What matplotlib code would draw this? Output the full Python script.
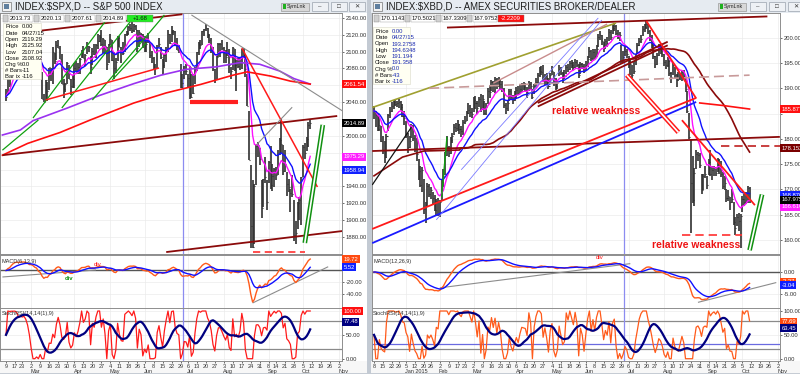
import numpy as np
import pandas as pd
import matplotlib
matplotlib.use("Agg")
import matplotlib.pyplot as plt
import matplotlib.transforms as mtrans
from matplotlib.patches import Rectangle

plt.rcParams["font.family"] = ["Liberation Sans", "DejaVu Sans"]

HOLIDAYS = ["2014-12-25", "2015-01-01", "2015-01-19", "2015-02-16", "2015-04-03",
            "2015-05-25", "2015-07-03", "2015-09-07", "2015-11-26"]

# ----------------------------------------------------------------------
# S&P 500 daily bars, 2015-02-09 .. 2015-10-09
# ----------------------------------------------------------------------
spx_first = "2015-02-09"
spx_close = [
    2046.7, 2068.6, 2068.5, 2088.5, 2097.0, 2100.3, 2099.7, 2097.5, 2110.3, 2109.7, 2115.5, 2113.9, 2110.7, 2104.5,
    2117.4, 2107.8, 2098.5, 2101.0, 2071.3, 2079.4, 2044.2, 2040.2, 2066.0, 2053.4, 2081.2, 2074.3, 2099.5, 2089.3,
    2108.1, 2104.4, 2091.5, 2061.1, 2056.2, 2061.0, 2086.2, 2067.9,
    2059.7, 2067.0, 2080.6, 2076.3, 2081.9, 2091.2, 2102.1, 2092.4, 2095.8, 2106.6, 2105.0, 2081.2, 2100.4, 2097.3,
    2108.0, 2112.9, 2117.7, 2108.9, 2114.8, 2106.9, 2085.5,
    2108.3, 2114.5, 2089.5, 2080.2, 2088.0, 2116.1, 2105.3, 2099.1, 2098.5, 2121.1, 2122.7, 2129.2, 2127.8, 2125.9,
    2130.8, 2126.1, 2104.2, 2123.5, 2120.8, 2107.4,
    2111.7, 2109.6, 2114.1, 2095.8, 2092.8, 2079.3, 2080.2, 2105.2, 2108.9, 2094.1, 2084.4, 2096.3, 2100.4, 2121.2,
    2110.0, 2122.9, 2124.2, 2108.6, 2102.3, 2101.5, 2057.6, 2063.1,
    2077.4, 2076.8, 2068.8, 2081.3, 2046.7, 2051.3, 2076.6, 2099.6, 2109.0, 2107.4, 2124.3, 2126.6, 2128.3, 2119.2,
    2114.2, 2102.2, 2079.7, 2067.6, 2093.3, 2108.6, 2108.6, 2103.8,
    2098.0, 2093.3, 2099.8, 2083.6, 2077.6, 2104.2, 2084.1, 2086.1, 2083.4, 2091.5, 2102.4, 2096.9, 2079.6, 2035.7,
    1970.9, 1893.2, 1867.6, 1940.5, 1987.7, 1988.9, 1972.2,
    1913.9, 1948.9, 1951.1, 1921.2, 1969.4, 1942.0, 1952.3, 1961.1, 1953.0, 1978.1, 1995.3, 1990.2, 1958.0, 1967.0,
    1942.7, 1938.8, 1932.2, 1931.3, 1881.8, 1884.1, 1920.0,
    1923.8, 1951.4, 1987.1, 1979.9, 1995.8, 2013.4, 2014.9]
spx_high = [
    2056, 2071, 2073, 2089, 2097, 2101, 2100, 2102, 2111, 2111, 2117, 2119, 2115, 2113,
    2118, 2115, 2107, 2104, 2100, 2082, 2076, 2050, 2066, 2064, 2081, 2080, 2106, 2098, 2113, 2114, 2107, 2097,
    2067, 2063, 2088, 2084,
    2068, 2072, 2086, 2089, 2086, 2092, 2102, 2107, 2097, 2111, 2107, 2095, 2104, 2109, 2109, 2121, 2120, 2126,
    2116, 2114, 2105,
    2109, 2121, 2114, 2099, 2092, 2118, 2118, 2105, 2111, 2121, 2125, 2131, 2133, 2135, 2133, 2132, 2126, 2126,
    2122, 2121,
    2119, 2117, 2122, 2112, 2101, 2094, 2085, 2108, 2116, 2105, 2091, 2097, 2106, 2126, 2121, 2130, 2126, 2125,
    2116, 2108, 2085, 2074,
    2083, 2085, 2074, 2083, 2074, 2074, 2082, 2100, 2111, 2114, 2124, 2127, 2133, 2128, 2121, 2116, 2106, 2079,
    2095, 2110, 2110, 2114,
    2105, 2102, 2112, 2103, 2082, 2105, 2103, 2090, 2093, 2092, 2103, 2104, 2096, 2073, 2029, 1965, 1948, 1943,
    1989, 1993, 1986,
    1948, 1949, 1975, 1947, 1970, 1988, 1966, 1962, 1963, 1983, 1997, 2021, 1989, 1983, 1957, 1949, 1937, 1953,
    1924, 1899, 1921,
    1927, 1951, 1989, 1991, 1999, 2016, 2020]
spx_low = [
    2041, 2049, 2058, 2069, 2086, 2089, 2093, 2090, 2085, 2104, 2103, 2111, 2104, 2103,
    2104, 2098, 2090, 2095, 2067, 2072, 2044, 2040, 2041, 2041, 2055, 2065, 2061, 2085, 2090, 2104, 2091, 2061,
    2045, 2052, 2062, 2067,
    2049, 2057, 2057, 2076, 2074, 2074, 2092, 2092, 2083, 2097, 2100, 2073, 2084, 2096, 2093, 2103, 2112, 2107,
    2098, 2097, 2078,
    2087, 2108, 2089, 2068, 2075, 2089, 2105, 2086, 2096, 2099, 2118, 2120, 2124, 2122, 2123, 2126, 2099, 2105,
    2112, 2104,
    2100, 2099, 2110, 2093, 2086, 2079, 2072, 2081, 2106, 2091, 2072, 2080, 2088, 2099, 2109, 2111, 2120, 2108,
    2102, 2098, 2057, 2057,
    2067, 2072, 2058, 2044, 2045, 2050, 2061, 2077, 2096, 2103, 2108, 2119, 2124, 2116, 2110, 2098, 2077, 2063,
    2068, 2094, 2094, 2102,
    2087, 2087, 2095, 2075, 2067, 2078, 2077, 2053, 2080, 2078, 2079, 2094, 2070, 2036, 1971, 1867, 1867, 1872,
    1942, 1975, 1965,
    1903, 1916, 1944, 1912, 1944, 1937, 1934, 1939, 1948, 1954, 1977, 1980, 1953, 1957, 1929, 1933, 1909, 1927,
    1875, 1872, 1889,
    1900, 1894, 1951, 1972, 1982, 1987, 2008]

# slow averages (date, value)
spx_purple_dates = ["2015-02-05", "2015-02-20", "2015-03-03", "2015-03-30", "2015-04-24", "2015-05-21",
                    "2015-06-12", "2015-07-02", "2015-07-28", "2015-08-14", "2015-08-31", "2015-09-16",
                    "2015-09-28", "2015-10-09"]
spx_purple_vals = [2001, 2007, 2018, 2033, 2048, 2062, 2072, 2079, 2082, 2087, 2085, 2077, 2068, 2061.5]
spx_red_ma_dates = ["2015-02-05", "2015-02-26", "2015-03-24", "2015-04-17", "2015-05-21", "2015-06-17",
                    "2015-07-15", "2015-08-10", "2015-08-20", "2015-09-09", "2015-09-24", "2015-10-09"]
spx_red_ma_vals = [1977, 1991, 2004, 2019, 2039, 2051, 2061, 2072, 2076, 2071, 2065, 2061.5]

# hand drawn trend lines (start date, start value, end date, end value)
spx_maroon_lines = [("2015-03-06", 2124.6, "2015-06-30", 2144.4),
                    ("2015-02-05", 1977.0, "2015-10-30", 2023.6),
                    ("2015-06-17", 1862.0, "2015-11-04", 1887.0)]
spx_green_lines = [("2015-03-03", 2021.2, "2015-05-01", 2141.2),
                   ("2015-03-25", 2033.1, "2015-05-22", 2143.6),
                   ("2015-04-20", 2042.6, "2015-06-16", 2143.6),
                   ("2015-05-05", 2066.4, "2015-06-02", 2110.3),
                   ("2015-02-05", 1983.0, "2015-03-06", 2018.9)]
spx_red_lines = [("2015-03-12", 2042.6, "2015-06-11", 2080.6),
                 ("2015-08-17", 2104.4, "2015-10-15", 1939.3)]
spx_gray_lines = [("2015-07-08", 2143.6, "2015-11-04", 2029.5),
                  ("2015-08-27", 1989.0, "2015-09-25", 2034.0)]
spx_green_double = [("2015-10-06", 1872.8, "2015-10-20", 2013.0)]
spx_red_flat = [("2015-07-07", "2015-08-13", 2040.6)]
spx_red_dashed = [("2015-08-25", "2015-10-06", 1862.5)]
spx_macd_gray = [("2015-02-05", -11.2, "2015-04-22", 0.9),
                 ("2015-08-25", -56.0, "2015-10-23", 6.5)]
spx_div_red = [("2015-04-23", 11.0)]
spx_div_green = [("2015-03-31", -14.6)]

spx_price_boxes = [("2061.54", 2061.54, "#ff1010"), ("2014.89", 2014.89, "#000000"),
                   ("1975.29", 1975.29, "#ff20ff"), ("1958.94", 1958.94, "#1020ff")]
spx_macd_boxes = [("19.72", 19.72, "#ff4a10"), ("5.52", 5.52, "#1020ff")]
spx_stoch_boxes = [("100.00", 100.0, "#ff1010"), ("77.48", 77.48, "#000080")]
spx_toolbar = ["2013.73", "2020.13", "2007.61", "2014.89"]
spx_change = "+1.68"
spx_info = [("Price", "0.00"), ("Date", "04/27/15"), ("Open", "2119.29"), ("High", "2125.92"),
            ("Low", "2107.04"), ("Close", "2108.92"), ("Chg %", "0.0"), ("# Bars", "-11"), ("Bar ix", "-116")]

# ----------------------------------------------------------------------
# XBD daily bars, 2014-12-08 .. 2015-10-09
# ----------------------------------------------------------------------
xbd_first = "2014-12-08"
xbd_close = [
    185.5, 184.8, 182.0, 182.8, 179.6, 177.8, 176.4, 180.6, 184.8, 185.6, 186.5, 187.2, 186.9, 187.0, 187.3, 186.3, 184.5,
    184.2, 180.6, 178.4, 179.5, 182.6, 180.2, 178.0, 177.0, 173.6, 170.8, 173.8, 166.2, 166.8, 170.6, 169.2, 169.8,
    168.3, 166.0, 167.8, 165.2,
    167.6, 171.5, 172.6, 176.8, 178.4, 177.2, 179.8, 180.6, 182.4, 182.2, 182.9, 182.0, 181.5, 183.4, 183.6, 185.2,
    185.8, 185.4, 185.0,
    187.6, 187.0, 186.2, 187.8, 186.0, 187.8, 185.2, 186.3, 189.5, 189.2, 191.2, 190.4, 191.8, 190.6, 191.4, 190.8,
    189.6, 186.6, 186.2, 187.0, 189.4, 188.2,
    187.6, 188.8, 189.6, 189.0, 189.8, 190.6, 190.2, 189.6, 189.2, 190.8, 190.4, 188.2, 190.4, 191.2, 192.6, 193.4,
    193.2, 191.4, 192.4, 191.6, 190.4,
    192.6, 193.4, 191.0, 190.4, 191.2, 193.8, 193.0, 192.2, 192.4, 194.2, 193.8, 195.0, 194.6, 194.2, 195.2, 194.6,
    192.6, 194.8, 194.4, 193.4,
    194.6, 195.8, 197.4, 196.0, 197.2, 196.4, 197.8, 200.2, 200.6, 199.4, 198.2, 199.4, 199.0, 201.2, 200.2, 202.0,
    202.4, 201.0, 200.2, 200.6, 195.4, 196.2,
    197.4, 196.8, 195.4, 194.8, 192.6, 193.4, 196.2, 198.6, 199.4, 199.8, 201.8, 202.2, 202.8, 201.4, 200.2, 198.6,
    196.4, 194.8, 196.6, 198.2, 197.8, 196.8,
    195.2, 194.6, 195.4, 193.0, 192.2, 194.6, 192.6, 192.2, 192.0, 192.6, 193.2, 192.4, 189.8, 185.6, 180.4, 171.2,
    168.0, 173.2, 177.0, 176.8, 174.8,
    169.8, 172.6, 173.0, 170.8, 175.4, 173.0, 173.8, 174.2, 173.2, 175.8, 175.0, 173.0, 170.6, 171.2, 168.4, 168.8,
    167.6, 168.2, 163.6, 162.4, 164.6,
    163.8, 164.8, 168.2, 167.6, 168.8, 170.2, 168.0]
xbd_high = [
    186.5, 185.6, 185.0, 184.5, 182.6, 180.5, 179.5, 181.0, 185.0, 186.3, 187.2, 187.7, 187.6, 187.5, 187.8, 187.4, 186.8,
    185.6, 183.6, 181.2, 180.5, 183.0, 182.8, 180.8, 180.2, 176.0, 174.6, 174.5, 172.0, 167.6, 171.2, 171.0, 170.4,
    169.5, 169.0, 168.2, 168.3,
    168.0, 171.8, 174.0, 177.5, 180.5, 178.6, 180.4, 181.2, 183.0, 183.2, 183.7, 183.0, 182.6, 183.7, 184.6, 185.6,
    187.0, 186.6, 186.2,
    188.2, 188.4, 187.4, 188.3, 188.8, 188.6, 187.4, 187.0, 190.0, 190.6, 191.6, 191.4, 192.3, 192.0, 192.2, 191.8,
    191.4, 190.0, 187.0, 187.6, 189.8, 189.8,
    188.6, 189.4, 190.2, 190.4, 190.6, 191.0, 191.2, 191.0, 190.2, 191.4, 191.2, 189.8, 190.8, 192.0, 193.0, 194.2,
    194.4, 194.6, 192.8, 193.0, 192.0,
    193.0, 194.4, 193.2, 192.0, 191.6, 194.6, 194.2, 193.2, 193.6, 194.6, 194.8, 195.4, 195.6, 195.2, 195.8, 195.6,
    194.8, 195.2, 195.0, 194.8,
    195.4, 196.4, 198.2, 197.6, 197.8, 197.8, 198.6, 200.8, 201.4, 200.6, 199.2, 199.8, 200.2, 201.8, 201.6, 202.6,
    202.9, 202.6, 201.6, 201.2, 198.6, 197.4,
    198.4, 197.8, 196.4, 195.8, 194.6, 195.4, 196.8, 199.0, 200.0, 200.6, 202.4, 202.8, 203.3, 202.8, 201.6, 200.6,
    198.8, 196.4, 197.0, 198.8, 199.0, 198.2,
    196.8, 195.6, 196.2, 195.6, 193.2, 195.0, 194.2, 192.8, 193.2, 193.0, 193.6, 193.6, 192.2, 189.4, 185.2, 180.0,
    176.6, 174.2, 177.8, 177.4, 177.2,
    173.0, 173.0, 174.6, 172.6, 176.0, 177.8, 174.6, 174.6, 174.4, 176.2, 176.0, 175.6, 173.4, 172.6, 170.0, 169.8,
    168.6, 170.0, 167.6, 164.6, 165.2,
    165.4, 165.2, 168.8, 169.2, 169.6, 170.6, 170.5]
xbd_low = [
    184.0, 182.3, 181.6, 181.5, 179.3, 177.0, 175.2, 176.2, 181.5, 184.2, 185.3, 186.0, 186.5, 186.4, 186.2, 185.8, 184.3,
    182.8, 180.2, 177.3, 178.2, 180.2, 179.6, 177.4, 175.6, 171.8, 170.4, 169.6, 165.2, 163.4, 166.5, 168.5, 168.2,
    166.9, 165.7, 165.0, 164.8,
    164.5, 167.8, 170.5, 172.8, 176.6, 176.4, 177.0, 179.2, 180.8, 181.4, 181.6, 181.0, 180.4, 180.8, 183.0, 183.5,
    185.0, 184.4, 184.2,
    185.4, 186.0, 185.0, 186.4, 185.4, 185.8, 184.8, 184.8, 186.8, 188.0, 189.4, 189.2, 189.0, 189.8, 190.2, 189.8,
    189.2, 186.2, 185.0, 185.6, 187.4, 187.8,
    186.8, 187.4, 187.8, 188.6, 188.8, 189.2, 189.6, 189.2, 188.0, 189.4, 189.8, 187.8, 188.8, 190.0, 190.8, 192.2,
    192.6, 191.2, 190.6, 190.6, 189.8,
    190.8, 192.6, 190.4, 189.6, 189.8, 192.4, 192.6, 191.0, 191.8, 192.8, 193.2, 193.6, 194.0, 193.6, 194.0, 194.2,
    192.0, 192.8, 193.8, 193.0,
    193.4, 194.2, 196.0, 195.4, 195.6, 195.8, 196.2, 198.2, 199.6, 198.6, 197.2, 197.8, 198.2, 199.4, 199.6, 200.8,
    201.4, 200.6, 199.8, 199.4, 195.0, 195.0,
    196.4, 196.0, 194.0, 192.6, 192.0, 192.8, 194.6, 196.8, 198.4, 199.0, 200.4, 201.2, 201.8, 200.8, 199.4, 198.0,
    195.8, 194.0, 194.6, 196.4, 196.8, 196.2,
    194.4, 193.8, 194.2, 192.4, 191.0, 192.6, 191.8, 190.2, 191.4, 191.6, 191.4, 191.8, 189.2, 185.2, 180.0, 161.4,
    167.4, 166.8, 174.0, 175.6, 174.2,
    169.2, 169.8, 172.2, 170.0, 172.8, 172.6, 171.8, 172.6, 172.6, 173.4, 173.0, 172.4, 170.0, 169.8, 167.6, 167.8,
    166.0, 167.4, 163.0, 161.0, 162.8,
    161.8, 158.4, 165.6, 166.8, 167.2, 167.4, 167.3]

# 50-day average before enough bars exist, then computed
xbd_sma50_early_dates = ["2014-12-08", "2014-12-31", "2015-01-20", "2015-02-18"]
xbd_sma50_early_vals = [172.7, 176.4, 177.6, 177.8]
xbd_red_ma_dates = ["2015-08-31", "2015-09-18", "2015-10-09"]
xbd_red_ma_vals = [187.1, 186.6, 185.9]

xbd_maroon_lines = [("2015-02-06", 202.0, "2015-10-23", 204.2),
                    ("2014-12-05", 177.6, "2015-11-03", 180.4),
                    ("2015-04-22", 187.1, "2015-08-05", 199.2),
                    ("2015-04-22", 186.4, "2015-08-05", 198.5)]
xbd_olive_lines = [("2014-12-05", 186.2, "2015-06-24", 202.9)]
xbd_tan_lines = [("2015-03-17", 191.0, "2015-06-17", 202.7)]
xbd_tan_dashed = [("2015-01-23", 190.0, "2015-10-09", 192.6)]
xbd_red_lines = [("2014-12-05", 162.2, "2015-08-27", 188.1),
                 ("2015-07-20", 203.3, "2015-08-27", 188.0),
                 ("2015-08-17", 183.7, "2015-10-14", 166.9)]
xbd_blue_lines = [("2014-12-05", 159.4, "2015-08-27", 187.3)]
xbd_thin_blue = [("2015-01-29", 164.0, "2015-06-12", 203.5),
                 ("2015-02-19", 173.9, "2015-06-10", 203.9)]
xbd_black_lines = [("2014-12-05", 170.9, "2015-01-08", 182.3)]
xbd_green_lines = [("2015-02-03", 168.5, "2015-02-06", 180.4)]
xbd_red_double = [("2015-07-02", 192.6, "2015-08-13", 181.3)]
xbd_green_double = [("2015-10-09", 158.0, "2015-10-20", 169.0)]
xbd_red_dashed = [("2015-08-17", "2015-10-05", 161.0)]
xbd_maroon_dashed = [("2015-09-17", "2015-11-03", 178.5)]
xbd_macd_gray = [("2015-02-02", -3.6, "2015-07-07", 1.9),
                 ("2015-08-28", -6.9, "2015-10-30", -2.4)]
xbd_div_red = [("2015-06-11", 3.2)]
xbd_notes = [("2015-06-09", 185.5), ("2015-08-27", 159.0)]

xbd_price_boxes = [("185.8772", 185.8772, "#ff1010"), ("178.1520", 178.152, "#7a0000"),
                   ("166.6104", 166.61, "#ff20ff"), ("168.8702", 168.8702, "#1020ff"),
                   ("167.9752", 167.9752, "#000000")]
xbd_macd_boxes = [("-2.27", -2.27, "#ff4a10"), ("-3.04", -3.04, "#1020ff")]
xbd_stoch_boxes = [("77.69", 77.69, "#ff4a10"), ("63.45", 63.45, "#000080")]
xbd_toolbar = ["170.1143", "170.5021", "167.3309", "167.9752"]
xbd_change = "-2.2209"
xbd_info = [("Price", "0.00"), ("Date", "04/27/15"), ("Open", "193.2758"), ("High", "194.6348"),
            ("Low", "191.194"), ("Close", "191.358"), ("Chg %", "0.0"), ("# Bars", "-43"), ("Bar ix", "-116")]


# ----------------------------------------------------------------------
# helpers
# ----------------------------------------------------------------------
def trading_days(start, end):
    d = pd.bdate_range(start, end)
    return d[~d.isin(pd.to_datetime(HOLIDAYS))]


def pos(cal, d):
    return cal.get_loc(pd.Timestamp(d))


def ema(s, n):
    return s.ewm(span=n, adjust=False).mean()


def stoch_rsi(close, n=14, k=14, sig=9):
    d = close.diff().fillna(0)
    up = d.clip(lower=0).ewm(alpha=1 / n, adjust=False).mean()
    dn = (-d.clip(upper=0)).ewm(alpha=1 / n, adjust=False).mean()
    rsi = (100 * up / (up + dn).replace(0, np.nan)).fillna(50)
    lo = rsi.rolling(k, min_periods=1).min()
    hi = rsi.rolling(k, min_periods=1).max()
    st = (100 * (rsi - lo) / (hi - lo).replace(0, np.nan)).fillna(50)
    smooth = st.rolling(sig, min_periods=1).mean().ewm(span=5, adjust=False).mean()
    return st, smooth


W, H = 800, 374
fig = plt.figure(figsize=(W / 100, H / 100), dpi=100)
fig.patch.set_facecolor("#c3cad3")


def px_axes(x0, y0, x1, y1):
    ax = fig.add_axes([x0 / W, 1 - y1 / H, (x1 - x0) / W, (y1 - y0) / H])
    ax.set_zorder(1)
    return ax


def px_rect(x0, y0, x1, y1, fc, ec="none", lw=0.5, z=0):
    fig.patches.append(Rectangle((x0 / W, 1 - y1 / H), (x1 - x0) / W, (y1 - y0) / H,
                                 transform=fig.transFigure, fc=fc, ec=ec, lw=lw, zorder=z))


def px_text(x, y, s, **kw):
    kw.setdefault("va", "center")
    kw.setdefault("zorder", 6)
    fig.text(x / W, 1 - y / H, s, **kw)


def style(ax, xlim, ylim, yticks, boxes, px_per_unit):
    ax.set_xlim(xlim)
    ax.set_ylim(ylim)
    ax.set_facecolor("white")
    ax.yaxis.tick_right()
    ax.set_yticks(yticks)
    # tick labels hidden under the value boxes are left blank
    hidden = [t for t in yticks if any(abs(t - b[1]) * px_per_unit < 4.5 for b in boxes)]
    ax.set_yticklabels(["" if t in hidden else f"{t:.2f}" for t in yticks])
    ax.tick_params(axis="y", labelsize=4.2, length=1.5, pad=1.0, colors="#333333", width=0.5)
    ax.set_xticks([])
    for s in ax.spines.values():
        s.set_color("#8e8e8e")
        s.set_linewidth(0.7)
    ax.grid(axis="y", color="#ebebeb", lw=0.5)
    ax.set_axisbelow(True)


def value_box(ax, v, text, fc):
    ax.annotate(text, xy=(1, v), xycoords=("axes fraction", "data"), xytext=(1.0, 0),
                textcoords="offset points", ha="left", va="center", fontsize=4.2, color="white",
                annotation_clip=False, zorder=10,
                bbox=dict(boxstyle="square,pad=0.25", fc=fc, ec="none"))


def lines(ax, cal, segs, **kw):
    for d0, v0, d1, v1 in segs:
        ax.plot([pos(cal, d0), pos(cal, d1)], [v0, v1], solid_capstyle="butt", **kw)


def flat(ax, cal, segs, **kw):
    for d0, d1, v in segs:
        ax.plot([pos(cal, d0), pos(cal, d1)], [v, v], **kw)


def date_axis(axs, panels, cal, xlim, year_on_jan):
    wk = cal.isocalendar().week.values
    starts = np.where(np.r_[True, wk[1:] != wk[:-1]])[0]
    vis = [p for p in starts if xlim[0] <= p <= xlim[1]]
    axs.set_xticks(vis)
    axs.set_xticklabels([str(cal[p].day) for p in vis])
    axs.tick_params(axis="x", labelsize=4.0, length=1.5, pad=0.6, colors="#333333", width=0.5)
    tr = mtrans.blended_transform_factory(axs.transData, axs.transAxes)
    prev = None
    for p in starts:
        m = cal[p].month
        if prev is not None and m != prev and xlim[0] <= p <= xlim[1]:
            lab = cal[p].strftime("%b")
            if m == 1 and year_on_jan:
                lab += " " + str(cal[p].year)
            axs.text(p - 0.5, -0.2, lab, transform=tr, fontsize=4.0, ha="left", va="center", color="#333333")
            for a in panels:
                a.axvline(p, color="#ececec", lw=0.5, zorder=0)
        prev = m


def draw_window(x0, x1, cal, first, close, high, low, fast, slow, cfg, boxes):
    axp = px_axes(x0, 13, x1, 254)
    axm = px_axes(x0, 255, x1, 307.5)
    axs = px_axes(x0, 308, x1, 361)
    style(axp, cfg["xlim"], cfg["ylim"], cfg["yticks"], boxes[0], cfg["ppu"][0])
    style(axm, cfg["xlim"], cfg["mlim"], cfg["mticks"], boxes[1], cfg["ppu"][1])
    style(axs, cfg["xlim"], (-4.8, 106.3), [0, 50, 100], boxes[2], 0.477)

    x = np.arange(len(close)) + pos(cal, first)
    c = pd.Series(close, dtype=float)

    # price bars
    axp.vlines(x, low, high, color="#303030", lw=1.2, zorder=3)
    axp.hlines(close, x, x + 0.6, color="#303030", lw=0.8, zorder=3)
    axp.plot(x, ema(c, 10), color="#ff10ff", lw=1.0, zorder=4)
    axp.plot(x, ema(c, 20), color="#1010ff", lw=1.0, zorder=4)

    # macd
    m = ema(c, fast) - ema(c, slow)
    sig = ema(m, 9)
    axm.axhline(0, color="#555555", lw=1.0, zorder=1)
    axm.plot(x, m, color="#ff5a1a", lw=1.0, zorder=3)
    axm.plot(x, sig, color="#1010ff", lw=1.0, zorder=3)

    # stochastic rsi
    st, st_sig = stoch_rsi(c)
    for lvl in (80, 20):
        axs.axhline(lvl, color="#8a8a8a", lw=0.9, zorder=1)
    axs.plot(x, st, color=cfg["stoch_color"], lw=0.9, zorder=3)
    axs.plot(x, st_sig, color="#000080", lw=1.6, zorder=4)

    # july 1 marker
    vx = pos(cal, "2015-07-01") - 0.5
    for a in (axp, axm, axs):
        a.axvline(vx, color="#8c8cf0", lw=0.9, zorder=2)

    date_axis(axs, (axp, axm, axs), cal, cfg["xlim"], cfg["year_on_jan"])

    for ax, bl in zip((axp, axm, axs), boxes):
        for t, v, fc in bl:
            value_box(ax, v, t, fc)
    return axp, axm, axs, x, c


def window_chrome(x0, x1, title, sym_x, btn_x, toolbar, change, change_fc, info, info_box, info_y0, val_color):
    px_rect(x0, 0, x1, 13, "#e6ebf1", z=-5)
    px_rect(x0 + 2, 2, x0 + 11, 11, "#f2f2f2", ec="#777777", lw=0.5, z=2)
    px_rect(x0 + 4, 4, x0 + 9, 9, "#5f7f9f", z=3)
    px_text(x0 + 15, 6.8, title, fontsize=6.9, color="#1e1e1e")
    px_rect(sym_x, 3, sym_x + 28, 10.5, "#d8d8d8", ec="#888888", lw=0.4, z=2)
    px_rect(sym_x + 1.5, 4.5, sym_x + 5, 9, "#20b020", z=3)
    px_text(sym_x + 6, 6.8, "SymLnk", fontsize=3.8, color="#222222")
    for bx, sym in zip(btn_x, ["\u2013", "\u25a1", "\u2715"]):
        px_rect(bx, 2, bx + 16, 11, "#eef1f5", ec="#9aa3ad", lw=0.5, z=2)
        px_text(bx + 8, 6.6, sym, fontsize=4.5, color="#333333", ha="center")
    # toolbar values
    tx = x0 + 3
    for v in toolbar:
        px_rect(tx, 14.5, tx + 5, 21.5, "#cfcfcf", ec="#8a8a8a", lw=0.3, z=5)
        px_rect(tx + 6, 14.5, tx + 30, 21.5, "white", ec="#9a9a9a", lw=0.3, z=5)
        px_text(tx + 7, 18.2, v, fontsize=4.2, color="#111111")
        tx += 31
    px_rect(tx, 14.5, tx + 26, 21.5, change_fc, ec="#777777", lw=0.3, z=5)
    px_text(tx + 13, 18.2, change, fontsize=4.2, color="#111111" if change_fc != "#ff1010" else "white",
            ha="center")
    # info box
    bx0, bx1 = info_box
    px_rect(bx0, info_y0 - 4, bx1, info_y0 + 52, "#fffff2", ec="#d8d8c8", lw=0.4, z=5)
    for k, (lab, val) in enumerate(info):
        yy = info_y0 + k * 6.25
        px_text(bx0 + 2, yy, lab, fontsize=4.2, color="#111111")
        px_text(bx0 + 19, yy, val, fontsize=4.2, color=val_color)


# ----------------------------------------------------------------------
# frames (behind the axes)
# ----------------------------------------------------------------------
px_rect(0, 0, 367, 374, "#c6ccd4", z=-10)
px_rect(371, 0, 800, 374, "#c6ccd4", z=-10)
px_rect(342, 13, 367, 361, "white", z=-9)
px_rect(780, 13, 800, 361, "white", z=-9)
px_rect(0, 361, 367, 373, "#f7f7f7", z=-9)
px_rect(371, 361, 800, 373, "#f7f7f7", z=-9)

# ----------------------------------------------------------------------
# left window : S&P 500
# ----------------------------------------------------------------------
cal_l = trading_days("2015-02-02", "2015-11-13")
cfg_l = dict(xlim=(5 - 6 / 1.8, 5 + 336 / 1.8), ylim=(1859.7, 2145.9), yticks=list(range(1880, 2141, 20)),
             mlim=(-63.8, 26.7), mticks=[-40, -20, 0], stoch_color="#ff1a1a", year_on_jan=False,
             ppu=(0.842, 0.58))
axp, axm, axs, xl, cl = draw_window(0, 342, cal_l, spx_first, spx_close, spx_high, spx_low, 6, 13, cfg_l,
                                    (spx_price_boxes, spx_macd_boxes, spx_stoch_boxes))

axp.plot([pos(cal_l, d) for d in spx_purple_dates], spx_purple_vals, color="#9a32f0", lw=1.2, zorder=4)
axp.plot([pos(cal_l, d) for d in spx_red_ma_dates], spx_red_ma_vals, color="#ff1010", lw=1.2, zorder=4)
lines(axp, cal_l, spx_maroon_lines, color="#8b0a0a", lw=1.3, zorder=5)
lines(axp, cal_l, spx_green_lines, color="#10a010", lw=0.9, zorder=5)
lines(axp, cal_l, spx_red_lines, color="#ff1a1a", lw=1.1, zorder=5)
lines(axp, cal_l, spx_gray_lines, color="#8c8c8c", lw=0.8, zorder=5)
lines(axp, cal_l, spx_green_double, color="#109010", lw=3.4, zorder=6)
lines(axp, cal_l, spx_green_double, color="white", lw=1.2, zorder=7)
flat(axp, cal_l, spx_red_flat, color="#ff2020", lw=3.0, zorder=5, solid_capstyle="butt")
flat(axp, cal_l, spx_red_dashed, color="#ff4040", lw=1.3, ls=(0, (4, 2.5)), zorder=5)
lines(axm, cal_l, spx_macd_gray, color="#8c8c8c", lw=0.8, zorder=2)
for d, v in spx_div_red:
    axm.text(pos(cal_l, d), v, "div", color="#ff1010", fontsize=4.3, ha="center", va="center", zorder=6)
for d, v in spx_div_green:
    axm.text(pos(cal_l, d), v, "div", color="#109010", fontsize=4.3, ha="center", va="center",
             fontweight="bold", zorder=6)
axm.text(0.005, 0.93, "MACD(6,13,9)", transform=axm.transAxes, fontsize=4.0, color="#333333", va="top")
axs.text(0.005, 0.95, "StochRSI(14,14(1),9)", transform=axs.transAxes, fontsize=4.0, color="#333333", va="top")

window_chrome(0, 367, "INDEX:$SPX,D -- S&P 500 INDEX", 281, [312, 331, 349],
              spx_toolbar, spx_change, "#22ee22", spx_info, (3, 41), 27, "#111111")

# ----------------------------------------------------------------------
# right window : XBD
# ----------------------------------------------------------------------
cal_r = trading_days("2014-12-01", "2015-11-13")
cfg_r = dict(xlim=(5 - 2 / 1.78, 5 + 406 / 1.78), ylim=(157.25, 204.88), yticks=list(range(160, 201, 5)),
             mlim=(-8.07, 3.86), mticks=[-5, 0], stoch_color="#ff5a1a", year_on_jan=True,
             ppu=(5.06, 4.4))
bxp, bxm, bxs, xr, cr = draw_window(372, 780, cal_r, xbd_first, xbd_close, xbd_high, xbd_low, 12, 26, cfg_r,
                                    (xbd_price_boxes, xbd_macd_boxes, xbd_stoch_boxes))

sma50 = cr.rolling(50).mean()
ok = sma50.notna().values
bxp.plot(list(xr[ok]), list(sma50[ok]), color="#8b0a0a", lw=1.2, zorder=4)
bxp.plot([pos(cal_r, d) for d in xbd_sma50_early_dates] + [xr[ok][0]],
         xbd_sma50_early_vals + [sma50[ok].iloc[0]], color="#8b0a0a", lw=1.2, zorder=4)
bxp.plot([pos(cal_r, d) for d in xbd_red_ma_dates], xbd_red_ma_vals, color="#ff1010", lw=1.2, zorder=4)
lines(bxp, cal_r, xbd_maroon_lines, color="#8b0a0a", lw=1.3, zorder=5)
lines(bxp, cal_r, xbd_olive_lines, color="#a0a030", lw=1.2, zorder=5)
lines(bxp, cal_r, xbd_tan_lines, color="#c88c8c", lw=1.0, zorder=5)
lines(bxp, cal_r, xbd_tan_dashed, color="#c89a9a", lw=1.2, ls=(0, (6, 3)), zorder=5)
lines(bxp, cal_r, xbd_red_lines, color="#ff1a1a", lw=1.3, zorder=5)
lines(bxp, cal_r, xbd_blue_lines, color="#1a1aff", lw=1.3, zorder=5)
lines(bxp, cal_r, xbd_thin_blue, color="#7a7aff", lw=0.6, zorder=5)
lines(bxp, cal_r, xbd_black_lines, color="#111111", lw=0.9, zorder=5)
lines(bxp, cal_r, xbd_green_lines, color="#10a010", lw=1.0, zorder=5)
lines(bxp, cal_r, xbd_red_double, color="#ff1a1a", lw=3.4, zorder=6)
lines(bxp, cal_r, xbd_red_double, color="white", lw=1.2, zorder=7)
lines(bxp, cal_r, xbd_green_double, color="#109010", lw=3.4, zorder=6)
lines(bxp, cal_r, xbd_green_double, color="white", lw=1.2, zorder=7)
flat(bxp, cal_r, xbd_red_dashed, color="#ff3030", lw=1.2, ls=(0, (5, 3)), zorder=5)
flat(bxp, cal_r, xbd_maroon_dashed, color="#c02020", lw=1.2, ls=(0, (5, 3)), zorder=5)
for d, v in xbd_notes:
    bxp.text(pos(cal_r, d), v, "relative weakness", color="#ee1111", fontsize=7.4, fontweight="bold",
             ha="center", va="center", zorder=8)
lines(bxm, cal_r, xbd_macd_gray, color="#8c8c8c", lw=0.8, zorder=2)
for d, v in xbd_div_red:
    bxm.text(pos(cal_r, d), v, "div", color="#ff1010", fontsize=4.3, ha="center", va="center", zorder=6)
bxs.axhline(30, color="#6a6ae0", lw=0.9, zorder=1)
bxm.text(0.003, 0.93, "MACD(12,26,9)", transform=bxm.transAxes, fontsize=4.0, color="#333333", va="top")
bxs.text(0.003, 0.95, "StochRSI(14,14(1),9)", transform=bxs.transAxes, fontsize=4.0, color="#333333", va="top")

window_chrome(371, 800, "INDEX:$XBD,D -- AMEX SECURITIES BROKER/DEALER", 718, [750, 769, 788],
              xbd_toolbar, xbd_change, "#ff1010", xbd_info, (373, 410), 31.5, "#1a2ab0")

fig.savefig("out.png", dpi=100, facecolor=fig.get_facecolor())
